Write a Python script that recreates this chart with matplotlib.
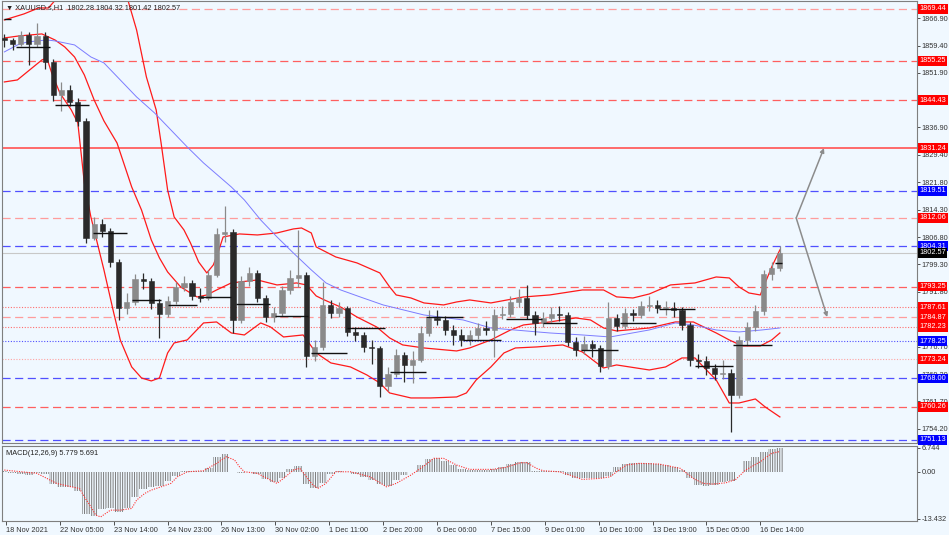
import matplotlib
matplotlib.use('Agg')
import matplotlib.pyplot as plt
import matplotlib.transforms as mtransforms

plt.rcParams['font.family'] = ['Liberation Sans', 'DejaVu Sans']

# ---- data (XAUUSD H1) ----
# candles grouped by 5 hourly bars, x = bar index of the group
first_open = 1861.48
closes = [1860.93, 1859.83, 1862.30, 1859.83, 1862.03, 1854.89, 1845.83, 1847.20, 1843.91, 1838.70,
          1806.58, 1810.42, 1808.50, 1799.99, 1787.36, 1789.01, 1795.32, 1794.78, 1788.74, 1785.72,
          1789.29, 1793.13, 1794.23, 1790.66, 1790.11, 1796.42, 1807.68, 1808.23, 1784.07, 1794.78,
          1796.97, 1790.11, 1784.89, 1785.99, 1792.30, 1795.60, 1796.42, 1774.19, 1776.66, 1788.19,
          1785.99, 1787.36, 1780.78, 1779.95, 1776.66, 1776.38, 1765.95, 1769.25, 1774.46, 1771.72,
          1773.09, 1780.50, 1784.62, 1784.07, 1781.32, 1779.95, 1778.58, 1779.95, 1781.87, 1781.32,
          1785.44, 1785.72, 1789.01, 1790.11, 1785.44, 1783.25, 1784.62, 1785.72, 1785.44, 1778.03,
          1775.83, 1777.48, 1776.38, 1771.44, 1784.62, 1782.42, 1785.99, 1785.44, 1787.91, 1788.19,
          1787.36, 1787.36, 1786.81, 1782.70, 1773.09, 1772.82, 1770.89, 1769.25, 1769.52, 1763.48,
          1778.58, 1782.15, 1786.54, 1796.70, 1798.34, 1802.57]
highs = [1862.6, 1861.5, 1863.4, 1863.0, 1865.6, 1863.2, 1855.8, 1849.3, 1848.6, 1845.0,
         1839.6, 1812.4, 1811.9, 1809.3, 1800.8, 1791.5, 1796.6, 1797.0, 1795.6, 1789.9,
         1790.6, 1794.6, 1796.2, 1795.0, 1792.8, 1797.9, 1809.2, 1815.4, 1809.0, 1796.0,
         1798.6, 1797.8, 1790.9, 1787.7, 1793.5, 1797.8, 1808.8, 1797.1, 1778.5, 1794.5,
         1789.6, 1789.0, 1788.0, 1782.0, 1780.8, 1778.7, 1777.0, 1771.2, 1776.2, 1775.4,
         1775.6, 1782.3, 1786.7, 1786.9, 1785.1, 1782.8, 1781.6, 1781.4, 1783.3, 1783.8,
         1787.0, 1787.8, 1790.6, 1792.5, 1793.7, 1786.6, 1786.2, 1787.5, 1787.9, 1786.2,
         1779.4, 1779.6, 1778.6, 1777.2, 1789.0, 1785.8, 1787.3, 1787.2, 1789.3, 1790.6,
         1789.6, 1789.2, 1788.9, 1787.6, 1783.4, 1774.8, 1774.3, 1772.0, 1773.1, 1770.6,
         1779.8, 1783.6, 1788.2, 1797.9, 1800.1, 1804.32]
lows = [1859.0, 1858.2, 1859.3, 1854.1, 1858.9, 1853.0, 1844.2, 1841.5, 1842.7, 1837.4,
        1805.2, 1805.9, 1806.8, 1798.6, 1784.1, 1785.6, 1788.2, 1792.5, 1787.2, 1779.2,
        1784.9, 1788.4, 1792.0, 1789.6, 1788.9, 1789.5, 1795.8, 1805.6, 1780.5, 1783.2,
        1793.4, 1789.0, 1783.5, 1783.6, 1785.1, 1791.3, 1793.2, 1771.2, 1772.9, 1775.8,
        1784.5, 1784.8, 1779.6, 1778.4, 1775.3, 1771.9, 1762.9, 1764.7, 1768.3, 1767.0,
        1766.8, 1772.4, 1779.6, 1782.6, 1779.9, 1777.1, 1776.9, 1777.2, 1778.8, 1779.9,
        1773.9, 1784.2, 1784.9, 1787.7, 1784.3, 1779.9, 1782.1, 1783.6, 1783.9, 1776.8,
        1774.3, 1774.6, 1773.9, 1769.8, 1770.6, 1781.0, 1781.6, 1783.8, 1784.6, 1786.6,
        1785.9, 1785.4, 1784.9, 1781.4, 1771.4, 1770.9, 1769.0, 1767.5, 1767.9, 1753.3,
        1762.6, 1776.9, 1781.0, 1785.5, 1795.0, 1797.4]
group_bars = 5

# Bollinger bands (bar index, price)
bb_up_x = [0, 12, 21, 27, 34, 43, 58, 70, 76, 81, 87, 93, 96, 100, 104, 110, 114, 119, 124, 128,
           131, 134, 144, 155, 167, 177, 182, 188, 191, 203, 216, 230, 236, 240, 249, 257, 269, 277,
           285, 298, 318, 334, 354, 367, 375, 385, 395, 408, 423, 436, 444, 450, 456, 463, 466, 470, 475]
bb_up_y = [1866.42, 1868.07, 1869.71, 1869.71, 1873.28, 1880.15, 1884.26, 1877.40, 1871.36, 1863.67,
           1850.77, 1841.71, 1832.66, 1819.76, 1812.34, 1808.78, 1805.21, 1799.99, 1796.97, 1799.17,
           1802.74, 1806.85, 1807.68, 1807.40, 1807.95, 1809.05, 1809.32, 1807.95, 1804.11, 1801.36,
           1799.72, 1796.97, 1793.13, 1790.93, 1790.11, 1788.74, 1788.19, 1789.01, 1789.56, 1788.74,
           1790.38, 1790.93, 1792.30, 1792.30, 1790.40, 1790.10, 1791.20, 1793.68, 1794.23, 1795.87,
           1795.60, 1793.13, 1791.48, 1790.93, 1794.23, 1798.62, 1803.29]
bb_mid_x = [0, 9, 23, 31, 37, 43, 49, 55, 61, 69, 78, 84, 90, 95, 100, 108, 118, 124, 130, 139,
            155, 167, 179, 185, 191, 196, 206, 216, 228, 236, 244, 257, 277, 285, 298, 310, 318, 334,
            350, 359, 367, 375, 395, 411, 422, 436, 444, 452, 463, 470, 475]
bb_mid_y = [1861.48, 1862.03, 1862.58, 1860.93, 1859.01, 1856.26, 1851.32, 1844.46, 1838.70, 1832.66,
            1820.58, 1814.27, 1806.03, 1801.09, 1797.25, 1793.13, 1790.38, 1790.93, 1792.30, 1794.23,
            1795.05, 1793.68, 1794.23, 1793.68, 1790.66, 1789.56, 1787.61, 1784.87, 1782.15, 1779.13,
            1777.21, 1776.38, 1775.56, 1776.38, 1778.58, 1781.32, 1782.70, 1783.52, 1784.62, 1784.07,
            1781.87, 1781.05, 1781.87, 1783.52, 1783.52, 1780.50, 1778.58, 1776.93, 1776.93, 1778.58,
            1780.50]
bb_lo_x = [0, 8, 14, 23, 26, 29, 34, 41, 45, 49, 53, 61, 67, 71, 78, 84, 90, 95, 100, 104,
           112, 122, 130, 139, 147, 157, 163, 171, 183, 191, 200, 212, 222, 230, 236, 249, 261, 277,
           283, 289, 298, 306, 313, 326, 342, 354, 362, 367, 375, 395, 405, 415, 423, 430, 436, 444,
           450, 460, 466, 475]
bb_lo_y = [1849.40, 1849.95, 1852.15, 1855.44, 1855.99, 1851.87, 1846.38, 1841.71, 1838.15, 1821.68,
           1812.34, 1797.80, 1785.99, 1778.58, 1771.17, 1768.15, 1767.33, 1768.15, 1775.01, 1777.76,
           1778.58, 1783.25, 1783.52, 1780.50, 1779.95, 1783.25, 1782.15, 1779.40, 1779.95, 1775.01,
           1772.27, 1771.17, 1768.98, 1766.78, 1764.03, 1762.66, 1762.66, 1762.93, 1764.03, 1767.60,
           1771.17, 1775.01, 1776.38, 1776.66, 1777.21, 1775.29, 1772.54, 1770.89, 1771.72, 1770.34,
           1771.17, 1773.64, 1773.64, 1770.34, 1767.60, 1761.28, 1761.28, 1762.38, 1760.19, 1757.45]

# slow moving average (blue)
ma_x = [0, 8, 14, 26, 31, 43, 53, 61, 71, 81, 92, 102, 112, 122, 139, 147, 157, 167, 177, 188,
        197, 206, 218, 232, 257, 281, 298, 334, 354, 371, 395, 411, 422, 436, 450, 464, 475]
ma_y = [1857.64, 1859.56, 1860.38, 1860.93, 1860.66, 1859.56, 1856.26, 1854.62, 1849.95, 1845.28,
        1840.89, 1836.23, 1831.56, 1827.17, 1820.58, 1817.01, 1811.52, 1806.85, 1802.46, 1797.80,
        1794.23, 1792.30, 1790.38, 1788.19, 1785.44, 1784.07, 1781.87, 1780.50, 1779.95, 1779.40,
        1781.32, 1783.25, 1782.70, 1781.32, 1780.78, 1781.32, 1781.87]

# short black daily segments (start bar, end bar, price)
seg_start = [0, 7, 31, 54, 78, 100, 120, 142, 166, 188, 210, 236, 258, 281, 307, 330, 353, 377, 401, 423, 446, 472]
seg_end = [4, 28, 52, 75, 96, 118, 139, 163, 186, 210, 233, 258, 281, 304, 329, 351, 376, 399, 423, 446, 470, 476]
seg_price = [1866.69, 1859.01, 1843.09, 1807.95, 1789.56, 1788.19, 1790.38, 1788.46, 1785.17, 1775.01,
             1781.87, 1769.80, 1784.89, 1778.58, 1784.34, 1783.25, 1775.84, 1783.25, 1787.09, 1771.44,
             1777.21, 1799.72]

# horizontal levels
level_values = [1869.44, 1855.25, 1844.43, 1831.24, 1819.51, 1812.06, 1804.31, 1793.25,
                1787.61, 1784.87, 1782.23, 1778.25, 1773.24, 1768.00, 1760.26, 1751.13]
level_kind = ['red_l', 'red', 'red', 'red_solid', 'blue', 'red_l', 'blue', 'red',
              'red_dot', 'red_l', 'red_dot', 'blue_dot', 'pink_dot', 'blue', 'red', 'blue']
bid = 1802.57

# projection arrows
proj_x = [485, 502, 504]
proj_y = [1812.06, 1831.24, 1784.87]

price_ticks = [1866.90, 1859.40, 1851.90, 1836.90, 1829.40, 1821.80, 1814.30, 1806.80,
               1799.30, 1791.80, 1776.70, 1769.20, 1761.70, 1754.20]

# MACD histogram per candle group, signal line
macd_hist = [0.3, -0.3, -0.6, -0.9, -0.5, -0.7, -3.5, -4.4, -4.4, -5.5,
             -12.1, -12.6, -10.6, -10.4, -11.5, -10.4, -7.2, -5.0, -4.4, -4.1,
             -2.7, -1.3, 0.1, 0.1, 0.1, 1.0, 4.1, 5.0, -0.1, -0.4,
             -0.1, -0.7, -2.1, -3.0, -1.8, 0.7, 1.6, -3.5, -4.7, -3.3,
             -0.7, 0.1, -0.1, -0.7, -1.6, -2.4, -3.5, -4.1, -2.4, -1.0,
             -0.1, 1.8, 3.6, 3.8, 3.0, 1.8, 0.7, 0.4, 0.4, 0.4,
             0.7, 1.3, 2.1, 2.7, 2.7, 0.1, 0.1, 0.1, 0.1, -1.0,
             -1.8, -1.8, -1.8, -1.8, -1.3, 1.3, 2.1, 2.4, 2.4, 2.4,
             2.1, 1.8, 1.3, 0.4, -1.8, -3.8, -4.1, -3.8, -3.0, -2.7,
             -0.1, 3.0, 4.1, 5.5, 6.4, 6.7]
sig_x = [0, 20, 32, 41, 46, 49, 53, 56, 59, 65, 71, 78, 81, 86, 90, 96, 102, 106, 112, 122,
         130, 136, 141, 144, 147, 155, 163, 167, 171, 177, 181, 185, 189, 192, 197, 203, 212, 224,
         234, 240, 249, 255, 263, 269, 277, 285, 299, 307, 316, 320, 326, 330, 340, 348, 354, 365,
         371, 375, 381, 389, 401, 414, 422, 428, 434, 442, 448, 454, 463, 470, 475]
sig_y = [0.43, -0.51, -3.35, -4.32, -4.77, -7.16, -10.00, -12.35, -12.84, -10.93, -10.93, -10.45,
         -8.09, -6.19, -5.25, -4.32, -3.35, -1.48, -0.06, 0.23, 2.33, 4.20, 3.27, 1.36, -0.06, -0.51,
         -2.41, -3.35, -1.93, 0.43, 0.91, -1.48, -3.83, -4.77, -3.35, -0.06, -0.06, -1.48, -4.32,
         -3.35, -0.99, 0.91, 3.75, 3.75, 1.85, 0.62, 0.62, 1.19, 2.50, 2.50, 0.91, 0.23, -0.06,
         -1.28, -2.22, -1.93, -1.48, -0.06, 1.85, 2.33, 2.13, 0.91, -1.93, -3.35, -3.55, -3.18,
         -2.22, 0.43, 2.78, 5.17, 5.69]
macd_ticks = [6.744, 0.0, -13.432]
macd_tick_labels = ['6.744', '0.00', '-13.432']

date_labels = ['18 Nov 2021', '22 Nov 05:00', '23 Nov 14:00', '24 Nov 23:00', '26 Nov 13:00',
               '30 Nov 02:00', '1 Dec 11:00', '2 Dec 20:00', '6 Dec 06:00', '7 Dec 15:00',
               '9 Dec 01:00', '10 Dec 10:00', '13 Dec 19:00', '15 Dec 05:00', '16 Dec 14:00']
label_step = 33

# ---- styling ----
BG = '#f0f8ff'
FS = 5.3
styles = {
    'red':       dict(color='#ff5f5f', lw=0.9, ls=(0, (6.5, 3.6))),
    'red_l':     dict(color='#ff9c9c', lw=0.9, ls=(0, (6.5, 3.6))),
    'red_solid': dict(color='#ff6a6a', lw=1.4, ls='-'),
    'red_dot':   dict(color='#ff6f6f', lw=0.8, ls=(0, (1, 1.5))),
    'pink_dot':  dict(color='#ffa3a3', lw=0.8, ls=(0, (1, 1.5))),
    'blue':      dict(color='#5050ff', lw=0.9, ls=(0, (6.5, 3.6))),
    'blue_dot':  dict(color='#5050ff', lw=0.8, ls=(0, (1, 1.5))),
}
box_color = {'red': '#ff0000', 'red_l': '#ff0000', 'red_solid': '#ff0000', 'red_dot': '#ff0000',
             'pink_dot': '#ff0000', 'blue': '#0000ff', 'blue_dot': '#0000ff'}

fig = plt.figure(figsize=(9.49, 5.35), dpi=100, facecolor=BG)
ax = fig.add_axes([0.002, 0.172, 0.9643, 0.826], facecolor=BG)
mac = fig.add_axes([0.002, 0.0262, 0.9643, 0.1402], facecolor=BG)

xmax = 559
for a in (ax, mac):
    a.set_xlim(-1.5, xmax)
    for s in a.spines.values():
        s.set_color('#7f7f7f')
        s.set_linewidth(0.8)

ax.set_ylim(1750.3, 1871.6)

# levels
for v, k in zip(level_values, level_kind):
    ax.axhline(v, zorder=1, **styles[k])
ax.axhline(bid, color='#c8c8c8', lw=0.8, zorder=1)

# black day segments
ax.hlines(seg_price, seg_start, seg_end, color='#111111', lw=1.0, zorder=4)

# bands and MA
ax.plot(bb_up_x, bb_up_y, color='#ff1a1a', lw=0.9, zorder=2)
ax.plot(bb_mid_x, bb_mid_y, color='#ff1a1a', lw=0.9, zorder=2)
ax.plot(bb_lo_x, bb_lo_y, color='#ff1a1a', lw=0.9, zorder=2)
ax.plot(ma_x, ma_y, color='#7c7cff', lw=0.7, zorder=2)

# candles
opens = [first_open] + closes[:-1]
xs = [i * group_bars for i in range(len(closes))]
for x, o, h, l, c in zip(xs, opens, highs, lows, closes):
    col = '#8a8a8a' if c >= o else '#2a2a2a'
    ax.vlines(x, l, h, color=col, lw=0.9, zorder=3)
    ax.bar(x, max(abs(c - o), 0.25), bottom=min(o, c), width=3.2,
           color=col, edgecolor=col, lw=0.4, zorder=3)

# projection arrows
for j in (1, 2):
    ax.annotate('', xy=(proj_x[j], proj_y[j]), xytext=(proj_x[0], proj_y[0]),
                arrowprops=dict(arrowstyle='-|>', color='#8c8c8c', lw=1.1,
                                mutation_scale=6, shrinkA=0, shrinkB=0), zorder=5)

# right price axis
ax.yaxis.tick_right()
ax.set_yticks(price_ticks)
ax.set_yticklabels(['%.2f' % p for p in price_ticks])
ax.tick_params(axis='y', labelsize=FS, length=2, pad=1.2, colors='#333333', width=0.6)
ax.set_xticks([])

trans = mtransforms.blended_transform_factory(ax.transAxes, ax.transData)
for v, k in zip(level_values, level_kind):
    ax.text(1.0025, v, '%.2f' % v, transform=trans, fontsize=FS, color='white',
            va='center', ha='left', clip_on=False, zorder=6,
            bbox=dict(boxstyle='square,pad=0.2', fc=box_color[k], ec='none'))
ax.text(1.0025, bid, '%.2f' % bid, transform=trans, fontsize=FS, color='white',
        va='center', ha='left', clip_on=False, zorder=6,
        bbox=dict(boxstyle='square,pad=0.2', fc='black', ec='none'))

ax.text(0.004, 0.994, '\u25bc XAUUSD.s,H1  1802.28 1804.32 1801.42 1802.57',
        transform=ax.transAxes, fontsize=FS, va='top', ha='left', color='#222222', zorder=7)

# MACD panel
plt.rcParams['hatch.linewidth'] = 0.7
mac.bar(xs, macd_hist, width=group_bars, facecolor='none', edgecolor='#7c7c7c',
        hatch='|||||||', lw=0, zorder=2)
mac.plot(sig_x, sig_y, color='#ff3030', lw=0.8, ls=(0, (1, 1.2)), zorder=3)
mac.set_ylim(-14.0, 7.25)
mac.yaxis.tick_right()
mac.set_yticks(macd_ticks)
mac.set_yticklabels(macd_tick_labels)
mac.tick_params(axis='y', labelsize=FS, length=2, pad=1.2, colors='#333333', width=0.6)
mac.text(0.004, 0.95, 'MACD(12,26,9) 5.779 5.691', transform=mac.transAxes,
         fontsize=FS, va='top', ha='left', color='#222222')

date_pos = [1 + label_step * k for k in range(len(date_labels))]
mac.set_xticks(date_pos)
mac.set_xticklabels(date_labels)
mac.tick_params(axis='x', labelsize=FS, length=3, pad=1.5, colors='#333333', width=0.6)
for lab in mac.get_xticklabels():
    lab.set_ha('left')

fig.savefig('out.png', dpi=100, facecolor=BG)
